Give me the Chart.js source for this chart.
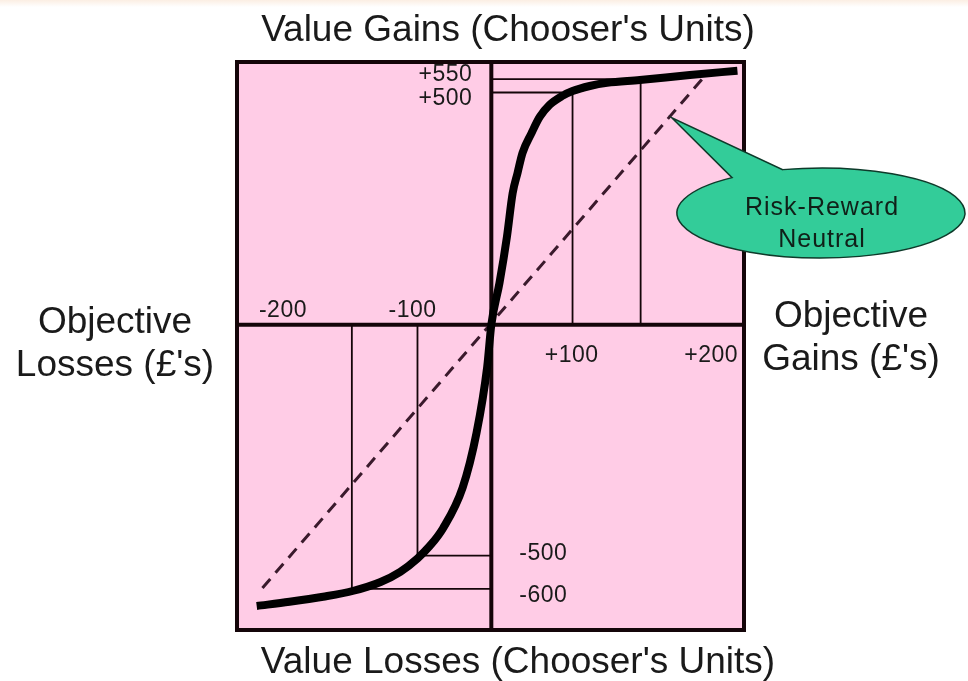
<!DOCTYPE html>
<html>
<head>
<meta charset="utf-8">
<script src="https://cdn.jsdelivr.net/npm/chart.js@4/dist/chart.umd.min.js"></script>
<style>
  html, body { margin: 0; padding: 0; background: #ffffff; }
  body { background: linear-gradient(#fbeee3 0px, #ffffff 7px); }
  #wrap { position: relative; width: 968px; height: 681px; }
</style>
</head>
<body>
<div id="wrap"><canvas id="c"></canvas></div>
<script>
// ---- Data (objective £ on x, chooser's value units on y) ----
const curveX = [-286, -246, -205, -168, -135, -111, -90, -75, -59, -35, -18, -5, 0, 10, 19, 26, 32, 38, 49, 59, 71, 86, 99, 120, 141, 181, 242, 300];
const curveY = [-609, -600, -589, -576, -557, -535, -506, -479, -441, -353, -234, -91, 0, 91, 190, 285, 329, 372, 415, 450, 476, 495, 506, 517, 524, 530, 541, 550];

const neutralX = [-279, 258];
const neutralY = [-570, 534];

// horizontal guide lines: value level, from x, to x
const hGuideY    = [532, 503, -500, -572];
const hGuideFrom = [0, 0, -90, -170];
const hGuideTo   = [157, 86, 0, 0];

// vertical guide lines: x value, from y (axis) to curve level
const vGuideX  = [99, 182, -170, -90];
const vGuideTo = [506, 530, -578, -506];

// tick labels
const xTickLabels = ['-200', '-100', '+100', '+200'];
const xTickVals   = [-254, -96, 98, 268];
const yTickLabels = ['+550', '+500', '-500', '-600'];
const yTickVals   = [541, 489, -496, -587];

const calloutTip   = [220, 448];
const calloutLines = ['Risk-Reward', 'Neutral'];

const titleTop    = "Value Gains (Chooser's Units)";
const titleBottom = "Value Losses (Chooser's Units)";
const titleLeft   = ['Objective', "Losses (£'s)"];
const titleRight  = ['Objective', "Gains (£'s)"];

// ---- Build datasets ----
const FONT = "'Liberation Sans', Arial, sans-serif";
const INK = '#140509';
const PINK = '#ffcce6';
const GREEN = '#33cc99';

const datasets = [];
hGuideY.forEach((v, i) => {
  datasets.push({
    data: [{x: hGuideFrom[i], y: v}, {x: hGuideTo[i], y: v}],
    showLine: true, borderColor: INK, borderWidth: 1.8, pointRadius: 0, order: 5
  });
});
vGuideX.forEach((v, i) => {
  datasets.push({
    data: [{x: v, y: 0}, {x: v, y: vGuideTo[i]}],
    showLine: true, borderColor: INK, borderWidth: 1.8, pointRadius: 0, order: 5
  });
});
datasets.push({
  data: neutralX.map((x, i) => ({x, y: neutralY[i]})),
  showLine: true, borderColor: '#3a1a2c', borderWidth: 3, borderDash: [12, 8],
  pointRadius: 0, order: 3
});
datasets.push({
  data: curveX.map((x, i) => ({x, y: curveY[i]})),
  showLine: true, borderColor: '#000000', borderWidth: 8,
  cubicInterpolationMode: 'monotone', pointRadius: 0, order: 1,
  borderCapStyle: 'butt', borderJoinStyle: 'round'
});

const diagram = {
  id: 'diagram',
  beforeDatasetsDraw(chart) {
    const {ctx, chartArea: a, scales: {x, y}} = chart;
    ctx.save();
    ctx.fillStyle = PINK;
    ctx.fillRect(a.left, a.top, a.right - a.left, a.bottom - a.top);
    ctx.strokeStyle = INK;
    ctx.lineWidth = 4;
    const x0 = x.getPixelForValue(0), y0 = y.getPixelForValue(0);
    ctx.beginPath();
    ctx.moveTo(x0, a.top); ctx.lineTo(x0, a.bottom);
    ctx.moveTo(a.left, y0); ctx.lineTo(a.right, y0);
    ctx.stroke();
    ctx.restore();
  },
  afterDatasetsDraw(chart) {
    const {ctx, chartArea: a, scales: {x, y}} = chart;
    const x0 = x.getPixelForValue(0), y0 = y.getPixelForValue(0);
    ctx.save();
    // frame
    ctx.strokeStyle = INK;
    ctx.lineWidth = 4;
    ctx.strokeRect(a.left, a.top, a.right - a.left, a.bottom - a.top);

    // tick labels
    ctx.fillStyle = '#1a1a1a';
    ctx.font = '23px ' + FONT;
    ctx.textBaseline = 'alphabetic';
    ctx.textAlign = 'center';
    try { ctx.letterSpacing = '0.5px'; } catch (e) {}
    xTickLabels.forEach((t, i) => {
      const px = x.getPixelForValue(xTickVals[i]);
      const py = xTickVals[i] < 0 ? y0 - 8 : y0 + 37;
      ctx.fillText(t, px, py);
    });
    ctx.textBaseline = 'middle';
    yTickLabels.forEach((t, i) => {
      const py = y.getPixelForValue(yTickVals[i]);
      if (yTickVals[i] > 0) { ctx.textAlign = 'right'; ctx.fillText(t, x0 - 19, py); }
      else { ctx.textAlign = 'left'; ctx.fillText(t, x0 + 28, py); }
    });

    // callout
    const tipX = x.getPixelForValue(calloutTip[0]);
    const tipY = y.getPixelForValue(calloutTip[1]);
    const cx = a.right + 77, cy = 213, rx = 144, ry = 45;
    const aB = Math.atan2(-0.956, -0.264);
    const aA = Math.atan2(-0.778, -0.611) + 2 * Math.PI;
    ctx.beginPath();
    ctx.ellipse(cx, cy, rx, ry, 0, aB, aA, false);
    ctx.lineTo(tipX, tipY);
    ctx.closePath();
    ctx.fillStyle = GREEN;
    ctx.fill();
    ctx.lineWidth = 1.5;
    ctx.strokeStyle = '#0e3a2a';
    ctx.stroke();
    ctx.fillStyle = '#102018';
    ctx.font = '25px ' + FONT;
    ctx.textAlign = 'center';
    ctx.textBaseline = 'alphabetic';
    try { ctx.letterSpacing = '1px'; } catch (e) {}
    ctx.fillText(calloutLines[0], cx + 1, 215);
    ctx.fillText(calloutLines[1], cx + 1, 247);
    try { ctx.letterSpacing = '0px'; } catch (e) {}

    // axis titles
    ctx.fillStyle = '#1a1a1a';
    ctx.font = '37px ' + FONT;
    ctx.textAlign = 'center';
    ctx.fillText(titleTop, 508, 41);
    ctx.fillText(titleBottom, 518, 673);
    ctx.fillText(titleLeft[0], 115, 333);
    ctx.fillText(titleLeft[1], 115, 376);
    ctx.fillText(titleRight[0], 851, 327);
    ctx.fillText(titleRight[1], 851, 370);
    ctx.restore();
  }
};

new Chart(document.getElementById('c'), {
  type: 'scatter',
  data: { datasets },
  options: {
    responsive: true,
    maintainAspectRatio: false,
    animation: false,
    events: [],
    layout: { padding: { left: 237, right: 224, top: 62, bottom: 51 } },
    scales: {
      x: { type: 'linear', min: -310, max: 308, display: false },
      y: { type: 'linear', min: -661, max: 569, display: false }
    },
    plugins: { legend: { display: false }, tooltip: { enabled: false } }
  },
  plugins: [diagram]
});
</script>
</body>
</html>
